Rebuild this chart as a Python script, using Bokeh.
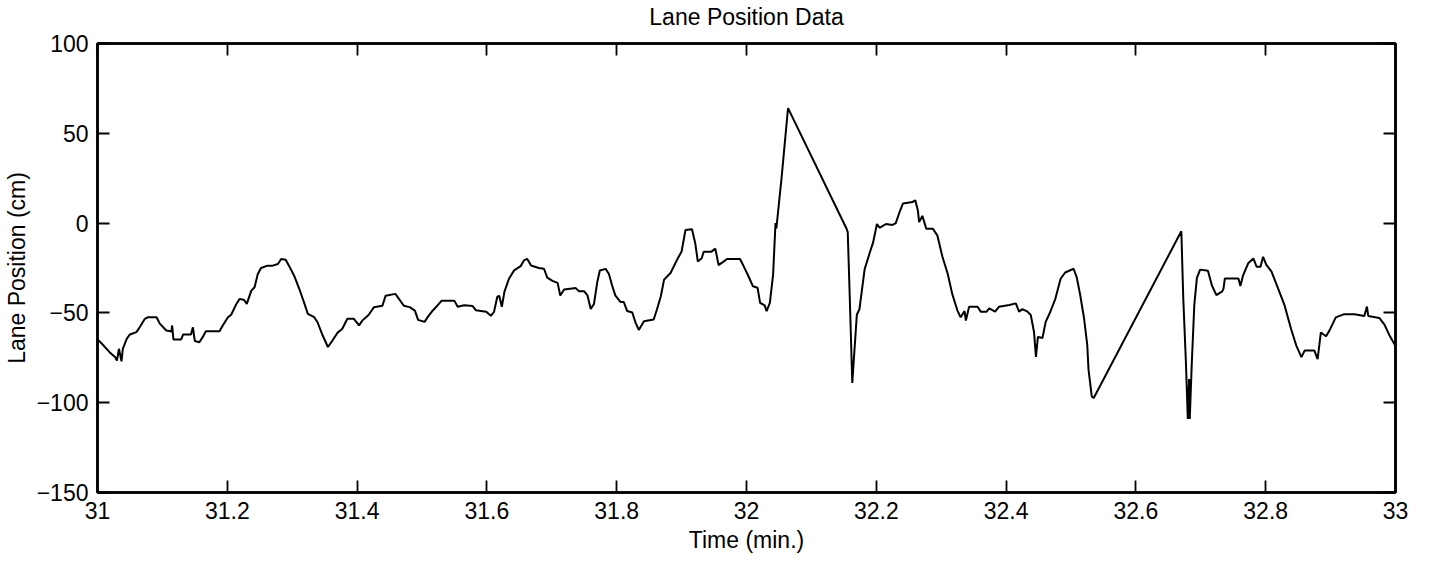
from bokeh.plotting import figure
from bokeh.models import Range1d, LinearAxis, FixedTicker, CustomJSTickFormatter, Title
from bokeh.embed import file_html
from bokeh.resources import INLINE

# ---- data ----
time_min = [
    31.001, 31.009, 31.014, 31.019, 31.027, 31.030, 31.033, 31.037, 31.039, 31.045,
    31.050, 31.060, 31.065, 31.073, 31.078, 31.091, 31.096, 31.106, 31.114, 31.115,
    31.117, 31.129, 31.132, 31.144, 31.147, 31.150, 31.157, 31.162, 31.167, 31.188,
    31.193, 31.201, 31.206, 31.214, 31.219, 31.226, 31.230, 31.237, 31.242, 31.247,
    31.252, 31.262, 31.270, 31.278, 31.283, 31.290, 31.295, 31.303, 31.311, 31.319,
    31.324, 31.334, 31.339, 31.347, 31.355, 31.362, 31.370, 31.377, 31.385, 31.395,
    31.403, 31.408, 31.418, 31.426, 31.439, 31.444, 31.459, 31.472, 31.481, 31.489,
    31.494,
    31.504, 31.509, 31.517, 31.522, 31.530, 31.550, 31.555, 31.565, 31.578, 31.583,
    31.599, 31.606, 31.611, 31.616, 31.619, 31.623, 31.627, 31.634, 31.642, 31.652,
    31.657, 31.662, 31.668, 31.680, 31.688, 31.693, 31.701, 31.709, 31.713, 31.719,
    31.737, 31.742, 31.750, 31.755, 31.760, 31.765, 31.770, 31.774, 31.783, 31.788,
    31.793, 31.798, 31.806, 31.811, 31.816, 31.824, 31.829, 31.834, 31.842, 31.857,
    31.862, 31.868, 31.873, 31.883, 31.893, 31.900, 31.906, 31.916, 31.921, 31.925,
    31.931, 31.934, 31.946, 31.952, 31.957, 31.964, 31.970, 31.990,
    31.995, 32.003, 32.010, 32.017, 32.021, 32.028, 32.031, 32.036, 32.041, 32.0447,
    32.046, 32.054, 32.064, 32.154, 32.156, 32.159, 32.163, 32.170, 32.174, 32.182,
    32.190, 32.195, 32.201, 32.205, 32.215, 32.225, 32.230, 32.236, 32.241, 32.256,
    32.260, 32.264, 32.266, 32.271, 32.277, 32.287, 32.294, 32.302, 32.310, 32.317,
    32.325, 32.330, 32.336, 32.338, 32.343, 32.356, 32.361, 32.370, 32.374, 32.383,
    32.389, 32.405, 32.415, 32.420, 32.425, 32.433, 32.438, 32.443, 32.446, 32.449,
    32.456, 32.461, 32.468, 32.476, 32.484, 32.491,
    32.504, 32.509, 32.514, 32.520, 32.525, 32.527, 32.532, 32.535, 32.670, 32.673,
    32.677, 32.680, 32.682, 32.683, 32.686, 32.690, 32.694, 32.699, 32.711, 32.717,
    32.724, 32.733, 32.735, 32.737, 32.758, 32.761, 32.765, 32.773, 32.781, 32.786,
    32.792, 32.796, 32.801, 32.809, 32.819, 32.829, 32.839, 32.847, 32.855, 32.860,
    32.875, 32.880, 32.885, 32.893, 32.898, 32.908, 32.921, 32.937, 32.952, 32.956,
    32.958, 32.975, 32.983, 32.990, 33.000,
]
lane_pos_cm = [
    -65, -68, -70, -72, -74.5, -76.5, -70, -77, -70, -64.5,
    -62, -60.7, -58, -53.3, -52.4, -52.4, -56, -59.8, -60.3, -57,
    -64.8, -64.8, -62, -62, -58, -65.7, -66.3, -63.5, -60.2, -60.2,
    -57, -52.4, -51, -45, -42.2, -42.8, -45, -37.6, -35.7, -28.3,
    -25, -23.7, -23.7, -22.8, -20, -20.4, -23.7, -29.3, -36.7, -45,
    -50.5, -52.4, -55.2, -62.6, -69, -65.4, -61, -59, -53.3, -53.3,
    -57, -54.3, -51, -46.8, -46, -40.4, -39.4, -46, -46.8, -48.7,
    -53.9,
    -55, -52.2, -48.5, -46.6, -43.3, -43.3, -46.6, -45.7, -46.2, -48.5,
    -49.4, -51.6, -49.4, -41, -40.5, -46.6, -38.3, -31, -26.3, -24,
    -20.8, -19.9, -23.6, -25, -25.4, -30.4, -32.2, -33.3, -40.3, -37,
    -36.2, -38, -38, -40.3, -47.8, -45, -33, -26.4, -25.5, -28.3,
    -34.8, -40.4, -44, -44, -48.9, -49.8, -55.4, -59.5, -54.6, -53.7,
    -48.1, -40.7, -31.5, -27.8, -20.4, -15.8, -3.8, -3.4, -11.2, -21.4,
    -19.6, -15.9, -15.9, -14.2, -23.4, -21.6, -20, -20,
    -23.5, -29.6, -35.2, -36, -44.4, -45.8, -49, -44.4, -28.7, 0,
    -3, 25, 64, -3, -5, -40, -89, -51, -48, -25.7,
    -16.4, -10.9, -0.5, -2.6, -0.5, -1, 0, 6.3, 10.9, 11.8,
    12.7, 7.2, 0.6, 4, -3.1, -3.1, -6.8, -18.9, -28.2, -39.4,
    -48.7, -52.4, -49, -54.3, -46.6, -46.6, -49.3, -49.3, -47.5, -49.3,
    -46.6, -45.6, -44.7, -49.3, -47.9, -49.3, -51.2, -60.6, -74.5, -63.4,
    -64, -55, -49.5, -42, -31, -27.5,
    -25.4, -30.4, -39.7, -52.7, -67.6, -81.6, -96.5, -97.4, -4.5, -42,
    -77, -109, -86.8, -109, -79, -45.5, -30.5, -25.9, -26.5, -34.6,
    -40.1, -38, -36.5, -30.9, -30.9, -35, -29.3, -22.4, -19.7, -24.3,
    -24.3, -18.8, -23.3, -27, -36.4, -45.7, -58.8, -68.1, -74.6, -71,
    -71, -75.8, -60.9, -63, -60, -52.5, -50.7, -50.7, -51.7, -46.5,
    -51.7, -52.8, -56.5, -62, -68.5,
]

x_ticks = [31, 31.2, 31.4, 31.6, 31.8, 32, 32.2, 32.4, 32.6, 32.8, 33]
x_tick_labels = ["31", "31.2", "31.4", "31.6", "31.8", "32", "32.2", "32.4", "32.6", "32.8", "33"]
y_ticks = [-150, -100, -50, 0, 50, 100]
y_tick_labels = ["\u2212150", "\u2212100", "\u221250", "0", "50", "100"]

title_text = "Lane Position Data"
x_label = "Time (min.)"
y_label = "Lane Position (cm)"

FONT = "Liberation Sans"
FS = "23px"

p = figure(width=1417, height=560, output_backend="svg", toolbar_location=None,
           x_range=Range1d(31, 33), y_range=Range1d(-150, 100),
           min_border_left=93, min_border_right=22, min_border_top=43, min_border_bottom=68,
           x_axis_location=None, y_axis_location=None)

p.grid.visible = False
p.outline_line_color = "black"
p.outline_line_width = 2.5
p.background_fill_color = "white"
p.border_fill_color = "white"

def make_formatter(vals, labels):
    return CustomJSTickFormatter(args=dict(tv=vals, tl=labels), code="""
        for (let i = 0; i < tv.length; i++) {
            if (Math.abs(tick - tv[i]) < 1e-6) { return tl[i]; }
        }
        return "";
    """)

def style_axis(ax, show_labels):
    ax.axis_line_color = "black"
    ax.axis_line_width = 2.5
    ax.major_tick_in = 12
    ax.major_tick_out = 0
    ax.major_tick_line_color = "black"
    ax.major_tick_line_width = 1.8
    ax.minor_tick_line_color = None
    ax.major_label_text_font = FONT
    ax.major_label_text_color = "black"
    ax.axis_label_text_font = FONT
    ax.axis_label_text_font_style = "normal"
    ax.axis_label_text_color = "black"
    if show_labels:
        ax.major_label_text_font_size = FS
        ax.axis_label_text_font_size = FS
    else:
        ax.major_label_text_font_size = "0px"
        ax.major_label_standoff = 0

xb = LinearAxis(ticker=FixedTicker(ticks=x_ticks), formatter=make_formatter(x_ticks, x_tick_labels),
                axis_label=x_label)
style_axis(xb, True)
xb.major_label_standoff = 9
xb.axis_label_standoff = 5
p.add_layout(xb, "below")

yl = LinearAxis(ticker=FixedTicker(ticks=y_ticks), formatter=make_formatter(y_ticks, y_tick_labels),
                axis_label=y_label)
style_axis(yl, True)
yl.major_label_standoff = 9
yl.axis_label_standoff = 4
p.add_layout(yl, "left")

xt = LinearAxis(ticker=FixedTicker(ticks=x_ticks), formatter=make_formatter(x_ticks, [""] * len(x_ticks)))
style_axis(xt, False)
p.add_layout(xt, "above")

yr = LinearAxis(ticker=FixedTicker(ticks=y_ticks), formatter=make_formatter(y_ticks, [""] * len(y_ticks)))
style_axis(yr, False)
p.add_layout(yr, "right")

# blank spacer between the top axis and the title
p.add_layout(Title(text=" ", text_font_size="10px", standoff=1), "above")

p.title.text = title_text
p.title.align = "center"
p.title.text_font = FONT
p.title.text_font_size = FS
p.title.text_font_style = "normal"
p.title.text_color = "black"
p.title.standoff = 0

p.line(time_min, lane_pos_cm, line_color="black", line_width=2)

open("out.html", "w").write(file_html(p, INLINE))
